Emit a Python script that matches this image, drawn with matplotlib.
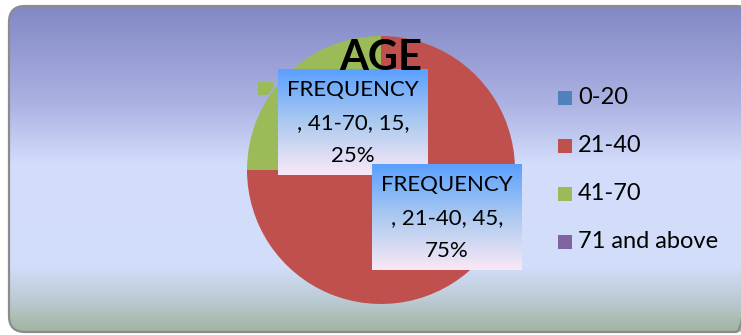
import numpy as np
import matplotlib
matplotlib.use("Agg")
import matplotlib.pyplot as plt
from matplotlib.patches import FancyBboxPatch, Rectangle, Polygon

# Data
categories = ["0-20", "21-40", "41-70", "71 and above"]
frequency = [0, 45, 15, 0]
colors = ["#4f81bd", "#c0504d", "#9bbb59", "#8064a2"]
title = "AGE"
series_name = "FREQUENCY"

W, H = 741, 335
fig = plt.figure(figsize=(W / 100, H / 100), dpi=100)
fig.patch.set_facecolor("white")

# Background axes in pixel coordinates (y downward)
bg = fig.add_axes([0, 0, 1, 1])
bg.set_xlim(0, W)
bg.set_ylim(H, 0)
bg.axis("off")

def vgradient(stops, n=400):
    ys = np.linspace(0, 1, n)
    pos = np.array([s[0] for s in stops])
    cols = np.array([s[1] for s in stops], dtype=float) / 255.0
    arr = np.stack([np.interp(ys, pos, cols[:, i]) for i in range(3)], axis=1)
    return arr[:, None, :]

# Chart area: rounded panel with vertical gradient
x0, y0, x1, y1 = 9, 6, 752, 332
panel = FancyBboxPatch((x0, y0), x1 - x0, y1 - y0,
                       boxstyle="round,pad=0,rounding_size=16",
                       facecolor="none", edgecolor="#8c8c8c", linewidth=1.6, zorder=3)
bg.add_patch(panel)
panel_stops = [(0.0, (130, 136, 196)), (0.3, (172, 178, 226)), (0.49, (212, 222, 252)),
               (0.8, (210, 221, 250)), (0.9, (188, 203, 212)), (1.0, (160, 180, 158))]
im = bg.imshow(vgradient(panel_stops), extent=(x0, x1, y1, y0), aspect="auto",
               zorder=1, interpolation="bilinear")
im.set_clip_path(panel)

# Pie
cx, cy, r = 381, 170, 134
pie_ax = fig.add_axes([(cx - r) / W, (H - cy - r) / H, 2 * r / W, 2 * r / H])
wedges, _ = pie_ax.pie(frequency, colors=colors, startangle=90, counterclock=False,
                       wedgeprops=dict(linewidth=0))
pie_ax.set_xlim(-1, 1)
pie_ax.set_ylim(-1, 1)
pie_ax.set_aspect("equal")
pie_ax.set_zorder(2)
pie_ax.patch.set_alpha(0)

# Overlay axes for title, labels and legend
ov = fig.add_axes([0, 0, 1, 1])
ov.set_xlim(0, W)
ov.set_ylim(H, 0)
ov.axis("off")
ov.set_zorder(3)
ov.patch.set_alpha(0)

ov.text(381, 58, title, ha="center", va="center", fontsize=30,
        fontweight="bold", family="Lato", color="black", zorder=5)

label_stops = [(0.0, (90, 160, 255)), (0.5, (172, 202, 240)), (1.0, (250, 232, 246))]
total = sum(frequency)

def data_label(bx, by, bw, bh, cat, val):
    rect = Rectangle((bx, by), bw, bh, facecolor="none", edgecolor="none")
    ov.add_patch(rect)
    g = ov.imshow(vgradient(label_stops), extent=(bx, bx + bw, by + bh, by),
                  aspect="auto", zorder=4, interpolation="bilinear")
    g.set_clip_path(rect)
    pct = round(100 * val / total)
    lines = [series_name, f", {cat}, {val},", f"{pct}%"]
    for i, line in enumerate(lines):
        ov.text(bx + bw / 2, by + 21 + i * 33, line, ha="center", va="center",
                fontsize=16, family="Lato", color="black", zorder=5)

# Small key shape next to the upper label
ov.add_patch(Polygon([(258, 82), (273, 82), (273, 88), (268, 95), (258, 95)],
                     closed=True, facecolor=colors[2], edgecolor="none", zorder=3))

data_label(278, 69, 150, 106, categories[2], frequency[2])
data_label(372, 164, 150, 106, categories[1], frequency[1])

# Legend
leg_y = [98, 146, 194, 242]
for cat, col, ly in zip(categories, colors, leg_y):
    ov.add_patch(Rectangle((558, ly - 7), 14, 14, facecolor=col, edgecolor="none", zorder=4))
    ov.text(578, ly, cat, ha="left", va="center", fontsize=17, family="Lato",
            color="black", zorder=5)

fig.savefig("out.png", dpi=100)
